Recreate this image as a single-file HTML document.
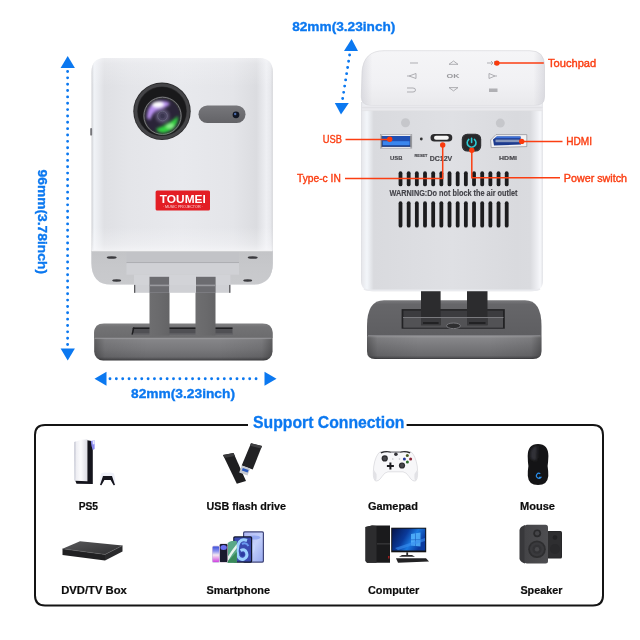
<!DOCTYPE html>
<html><head><meta charset="utf-8">
<style>
html,body{margin:0;padding:0;background:#fff;width:640px;height:640px;overflow:hidden;}
svg{display:block;}
body{-webkit-font-smoothing:antialiased;}
svg{will-change:transform;}
text{font-family:"Liberation Sans",sans-serif;}
</style></head>
<body>
<svg width="640" height="640" viewBox="0 0 640 640">
<defs>
  <clipPath id="bodyClip"><path d="M91.5,72 Q91.5,57.9 105,57.9 L259,57.9 Q272.8,57.9 272.8,72 L272.8,284 L91.5,284 Z"/></clipPath>
  <filter id="blur15" x="-20%" y="-20%" width="140%" height="140%"><feGaussianBlur stdDeviation="1.5"/></filter>
  <filter id="blur1" x="-20%" y="-20%" width="140%" height="140%"><feGaussianBlur stdDeviation="0.8"/></filter>
  <linearGradient id="bodyL" x1="0" y1="0" x2="1" y2="0">
    <stop offset="0" stop-color="#cdced2"/>
    <stop offset="0.014" stop-color="#f0f3f7"/>
    <stop offset="0.03" stop-color="#eceef2"/>
    <stop offset="0.07" stop-color="#dfe0e4"/>
    <stop offset="0.2" stop-color="#e4e5e9"/>
    <stop offset="0.5" stop-color="#e8e9ed"/>
    <stop offset="0.78" stop-color="#e4e5e9"/>
    <stop offset="0.91" stop-color="#dbdce0"/>
    <stop offset="0.965" stop-color="#eeeff3"/>
    <stop offset="0.99" stop-color="#e6e7eb"/>
    <stop offset="1" stop-color="#cfd0d4"/>
  </linearGradient>
  <linearGradient id="bodyV" x1="0" y1="0" x2="0" y2="1">
    <stop offset="0" stop-color="#fafafc" stop-opacity="0.5"/>
    <stop offset="0.03" stop-color="#fafafc" stop-opacity="0.25"/>
    <stop offset="0.15" stop-color="#fafafc" stop-opacity="0"/>
    <stop offset="0.88" stop-color="#fafafc" stop-opacity="0"/>
    <stop offset="0.97" stop-color="#fafafc" stop-opacity="0.35"/>
    <stop offset="1" stop-color="#fafafc" stop-opacity="0.6"/>
  </linearGradient>
  <linearGradient id="bodyR" x1="0" y1="0" x2="1" y2="0">
    <stop offset="0" stop-color="#dcdde1"/>
    <stop offset="0.008" stop-color="#e8e9ed"/>
    <stop offset="0.033" stop-color="#f3f6fa"/>
    <stop offset="0.07" stop-color="#d9dade"/>
    <stop offset="0.5" stop-color="#dfe0e4"/>
    <stop offset="0.855" stop-color="#d9dade"/>
    <stop offset="0.93" stop-color="#dadbdf"/>
    <stop offset="0.97" stop-color="#eeeff3"/>
    <stop offset="0.985" stop-color="#f7f8fb"/>
    <stop offset="1" stop-color="#e2e3e7"/>
  </linearGradient>
  <linearGradient id="under" x1="0" y1="0" x2="0" y2="1">
    <stop offset="0" stop-color="#c3c4c7"/>
    <stop offset="0.5" stop-color="#c7c8cb"/>
    <stop offset="1" stop-color="#c9cacd"/>
  </linearGradient>
  <linearGradient id="baseFront" x1="0" y1="0" x2="0" y2="1">
    <stop offset="0" stop-color="#9a9a9c"/>
    <stop offset="0.1" stop-color="#868689"/>
    <stop offset="0.5" stop-color="#77777a"/>
    <stop offset="0.85" stop-color="#6a6a6d"/>
    <stop offset="0.95" stop-color="#505053"/>
    <stop offset="1" stop-color="#3a3a3d"/>
  </linearGradient>
  <linearGradient id="baseFrontH" x1="0" y1="0" x2="1" y2="0">
    <stop offset="0" stop-color="#000" stop-opacity="0.3"/>
    <stop offset="0.06" stop-color="#000" stop-opacity="0.08"/>
    <stop offset="0.3" stop-color="#000" stop-opacity="0"/>
    <stop offset="0.7" stop-color="#000" stop-opacity="0"/>
    <stop offset="0.94" stop-color="#000" stop-opacity="0.08"/>
    <stop offset="1" stop-color="#000" stop-opacity="0.3"/>
  </linearGradient>
  <linearGradient id="baseTop" x1="0" y1="0" x2="0" y2="1">
    <stop offset="0" stop-color="#808082"/>
    <stop offset="0.25" stop-color="#727274"/>
    <stop offset="1" stop-color="#6c6c6e"/>
  </linearGradient>
  <linearGradient id="baseFrontL" x1="0" y1="0" x2="0" y2="1">
    <stop offset="0" stop-color="#9a9a9c"/>
    <stop offset="0.39" stop-color="#9a9a9c"/>
    <stop offset="0.43" stop-color="#858588"/>
    <stop offset="0.7" stop-color="#78787b"/>
    <stop offset="0.9" stop-color="#6a6a6d"/>
    <stop offset="0.96" stop-color="#505053"/>
    <stop offset="1" stop-color="#3c3c3f"/>
  </linearGradient>
  <linearGradient id="baseTopR" x1="0" y1="0" x2="0" y2="1">
    <stop offset="0" stop-color="#78787b"/>
    <stop offset="0.12" stop-color="#666669"/>
    <stop offset="1" stop-color="#5e5e61"/>
  </linearGradient>
  <linearGradient id="topPad" x1="0" y1="0" x2="0" y2="1">
    <stop offset="0" stop-color="#f5f5f7"/>
    <stop offset="0.6" stop-color="#f1f1f4"/>
    <stop offset="1" stop-color="#e9e9ec"/>
  </linearGradient>
  <linearGradient id="topPadH" x1="0" y1="0" x2="1" y2="0">
    <stop offset="0" stop-color="#c8c8d0" stop-opacity="0.5"/>
    <stop offset="0.06" stop-color="#c8c8d0" stop-opacity="0"/>
    <stop offset="0.94" stop-color="#c8c8d0" stop-opacity="0"/>
    <stop offset="1" stop-color="#c8c8d0" stop-opacity="0.5"/>
  </linearGradient>
  <linearGradient id="leg" x1="0" y1="0" x2="1" y2="0">
    <stop offset="0" stop-color="#6e6e70"/>
    <stop offset="0.5" stop-color="#6a6a6c"/>
    <stop offset="1" stop-color="#646466"/>
  </linearGradient>
  <radialGradient id="glass" cx="0.45" cy="0.4" r="0.6">
    <stop offset="0" stop-color="#5a4a78"/>
    <stop offset="0.6" stop-color="#2a2040"/>
    <stop offset="1" stop-color="#141018"/>
  </radialGradient>
  <radialGradient id="purp" cx="0.5" cy="0.5" r="0.5">
    <stop offset="0" stop-color="#f4eaff"/>
    <stop offset="0.35" stop-color="#b58cf0"/>
    <stop offset="1" stop-color="#7a3fd0" stop-opacity="0"/>
  </radialGradient>
  <radialGradient id="grn" cx="0.5" cy="0.5" r="0.5">
    <stop offset="0" stop-color="#7cf07c"/>
    <stop offset="0.5" stop-color="#22b83a"/>
    <stop offset="1" stop-color="#118a2a" stop-opacity="0"/>
  </radialGradient>
  <linearGradient id="sensor" x1="0" y1="0" x2="0" y2="1">
    <stop offset="0" stop-color="#77777b"/>
    <stop offset="1" stop-color="#636367"/>
  </linearGradient>
</defs>

<!-- ===== LEFT DIMENSION ARROWS ===== -->
<g fill="#0b78f0">
  <polygon points="67.7,56 60.6,68 74.9,68"/>
  <polygon points="67.7,360.5 60.6,348.4 74.9,348.4"/>
  <polygon points="94.5,378.8 106.5,371.8 106.5,385.8"/>
  <polygon points="276.5,378.8 264.5,371.8 264.5,385.8"/>
</g>
<g stroke="#0b78f0" stroke-width="2.9" stroke-linecap="round">
  <line x1="67.6" y1="71.5" x2="67.6" y2="346" stroke-dasharray="0 6.35"/>
  <line x1="110" y1="378.8" x2="262" y2="378.8" stroke-dasharray="0 6.35"/>
</g>
<g font-size="13.4" font-weight="bold" fill="#0b78f0" stroke="#0b78f0" stroke-width="0.35">
  <text x="131" y="398.2" textLength="104" lengthAdjust="spacingAndGlyphs">82mm(3.23inch)</text>
  <text transform="translate(37.6,169.5) rotate(90)" x="0" y="0" textLength="104.5" lengthAdjust="spacingAndGlyphs">96mm(3.78inch)</text>
  <text x="292.2" y="30.7" textLength="103.2" lengthAdjust="spacingAndGlyphs">82mm(3.23inch)</text>
</g>

<!-- ===== LEFT PROJECTOR ===== -->
<g id="leftproj">
  <!-- base -->
  <rect x="94.2" y="324" width="178.3" height="36.6" rx="9" fill="url(#baseFrontL)"/>
  <rect x="94.2" y="324" width="178.3" height="36.6" rx="9" fill="url(#baseFrontH)"/>
  <path d="M94.2,338 L94.2,333 Q94.2,323.6 104,323.6 L262.5,323.6 Q272.5,323.6 272.5,333 L272.5,338 Z" fill="url(#baseTop)"/>
  <line x1="95" y1="338.3" x2="271.5" y2="338.3" stroke="#949498" stroke-width="1.1"/>
  <path d="M133,327.5 L232.5,327.5 L232.5,334.5 L131.5,334.5 Z" fill="#505054"/>
  <path d="M133,327.5 L232.5,327.5 L232.5,329 L132.6,329 Z" fill="#1e1e20"/>
  <path d="M133,327.5 L134.5,327.5 L133,334.5 L131.5,334.5 Z" fill="#1e1e20"/>
  <rect x="133" y="333.5" width="99.5" height="1" fill="#6a6a6e"/>
  <!-- legs -->
  <rect x="149.5" y="276" width="20" height="59.5" fill="url(#leg)"/>
  <rect x="195.5" y="276" width="20" height="59.5" fill="url(#leg)"/>
  <!-- bracket below body -->
  <rect x="134" y="270" width="96.4" height="22.8" fill="#cfd0d4"/>
  <rect x="134" y="284" width="1.3" height="8.8" fill="#5a5a5e"/>
  <rect x="229.1" y="284" width="1.3" height="8.8" fill="#5a5a5e"/>
  <!-- body -->
  <path d="M91.5,72 Q91.5,57.9 105,57.9 L259,57.9 Q272.8,57.9 272.8,72 L272.8,263 Q272.8,284.6 253,284.6 L111,284.6 Q91.5,284.6 91.5,263 Z" fill="url(#bodyL)"/>
  <path d="M91.5,57.9 L272.8,57.9 L272.8,250 L91.5,250 Z" fill="url(#bodyV)" clip-path="url(#bodyClip)"/>
  <path d="M91.5,251 L272.8,251 L272.8,263 Q272.8,284.6 253,284.6 L111,284.6 Q91.5,284.6 91.5,263 Z" fill="url(#under)"/>
  <path d="M92,250.6 L272.3,250.6" stroke="#f2f2f4" stroke-width="1.2"/>
  <rect x="126.5" y="252" width="112.5" height="10.5" fill="#c2c3c7"/>
  <rect x="126.5" y="262" width="112.5" height="1.1" fill="#aeafb3"/>
  <rect x="126.5" y="263.1" width="112.5" height="11.6" fill="#d0d1d5"/>
  <rect x="134" y="274.7" width="96.4" height="10" fill="#d2d3d7"/>
  <!-- leg tops inside bracket -->
  <rect x="149.5" y="276.8" width="19.6" height="16" fill="#6c6c70"/>
  <rect x="196" y="276.8" width="19.6" height="16" fill="#6c6c70"/>
  <rect x="149.5" y="284.6" width="19.6" height="1.6" fill="#9a9a9e"/>
  <rect x="196" y="284.6" width="19.6" height="1.6" fill="#9a9a9e"/>
  <ellipse cx="111.7" cy="257.5" rx="5" ry="1.3" fill="#3a3a3e"/>
  <ellipse cx="116.7" cy="280.5" rx="4.5" ry="1.2" fill="#3a3a3e"/>
  <ellipse cx="252.7" cy="257.5" rx="5" ry="1.3" fill="#3a3a3e"/>
  <ellipse cx="247.7" cy="280.5" rx="4.5" ry="1.2" fill="#3a3a3e"/>
  <rect x="90.2" y="128" width="1.9" height="7.6" rx="0.95" fill="#76767a"/>
  <!-- lens -->
  <circle cx="162" cy="111.3" r="28.7" fill="#2a2a2c"/>
  <circle cx="162" cy="111.3" r="26.3" fill="none" stroke="#444447" stroke-width="3"/>
  <circle cx="162" cy="111.3" r="24.2" fill="#19191b"/>
  <circle cx="162.5" cy="115.8" r="19.4" fill="#303033"/>
  <circle cx="162.5" cy="115.8" r="18.6" fill="none" stroke="#7a7a7e" stroke-width="1"/>
  <circle cx="162.5" cy="116" r="17.2" fill="#2a2438"/>
  <g filter="url(#blur15)">
    <path d="M147,118 Q147,103 160,101 Q168,100.5 170,104 Q166,108 160,109 Q153,111 150,120 Z" fill="#b890f0"/>
    <ellipse cx="158" cy="104.5" rx="6" ry="3" fill="#ffffff"/>
    <path d="M178,116 Q178,130 164,133 Q158,133 156,129 Q164,126 170,122 Q175,119 178,116 Z" fill="#30d040"/>
    <ellipse cx="170" cy="126" rx="4" ry="2.5" fill="#8af08a"/>
    <circle cx="162.5" cy="116" r="7" fill="#5a5270"/>
  </g>
  <circle cx="162.5" cy="116" r="4.8" fill="#4a4460" stroke="#6a6680" stroke-width="0.8"/>
  <circle cx="162.5" cy="116" r="2.2" fill="#3a3650"/>
  <!-- sensor -->
  <rect x="198.5" y="105.5" width="47" height="17.5" rx="8.75" fill="url(#sensor)"/>
  <circle cx="236" cy="114.8" r="3.4" fill="#101522"/>
  <circle cx="235.2" cy="114" r="1.2" fill="#4a6aa8"/>
  <!-- label -->
  <rect x="155.6" y="190.6" width="54.4" height="20" rx="1.5" fill="#e31e25"/>
  <text x="182.8" y="203.2" font-size="11.3" font-weight="bold" fill="#fff" text-anchor="middle" textLength="46" lengthAdjust="spacingAndGlyphs">TOUMEI</text>
  <text x="182.8" y="208.3" font-size="3.3" fill="#f8d8d8" text-anchor="middle" textLength="40" lengthAdjust="spacingAndGlyphs">· MUSIC PROJECTOR ·</text>
</g>

<!-- ===== TOP DIMENSION (right) ===== -->
<polygon points="351.6,39 344,51 358,51" fill="#0b78f0"/>
<polygon points="341,114.4 334.8,103 348.8,103" fill="#0b78f0"/>
<line x1="349.6" y1="55" x2="342.6" y2="99" stroke="#0b78f0" stroke-width="2.9" stroke-linecap="round" stroke-dasharray="0 6.3"/>

<!-- ===== RIGHT PROJECTOR ===== -->
<g id="rightproj">
  <!-- base -->
  <path d="M367,336 L367,351 Q367,359 375,359 L533,359 Q541.5,359 541.5,351 L541.5,336 Z" fill="url(#baseFront)"/>
  <path d="M367,336 L367,351 Q367,359 375,359 L533,359 Q541.5,359 541.5,351 L541.5,336 Z" fill="url(#baseFrontH)"/>
  <path d="M367,336 L367,326 Q367,300.2 384,300.2 L525,300.2 Q541.5,300.2 541.5,326 L541.5,336 Z" fill="url(#baseTopR)"/>
  <line x1="368" y1="335.8" x2="540.5" y2="335.8" stroke="#8e8e92" stroke-width="1.1"/>
  <rect x="401.6" y="309.1" width="103.2" height="19.6" fill="#222224"/>
  <rect x="403.4" y="310.6" width="99.6" height="17" fill="#3c3c3f"/>
  <rect x="403.4" y="317.5" width="99.6" height="10.1" fill="#525255"/>
  <ellipse cx="453.5" cy="325.8" rx="7" ry="2.8" fill="#2e2e30" stroke="#77777b" stroke-width="1"/>
  <!-- legs -->
  <rect x="421" y="286" width="19.6" height="39" fill="#2c2c2e"/>
  <rect x="467" y="286" width="20.5" height="39" fill="#2c2c2e"/>
  <rect x="403" y="317" width="100.5" height="1" fill="#7a7a7e"/>
  <rect x="421" y="318" width="19.6" height="7.5" fill="#3a3a3d"/><rect x="423" y="322" width="15.6" height="2" fill="#222224"/>
  <rect x="467" y="318" width="20.5" height="7.5" fill="#3a3a3d"/><rect x="469" y="322" width="16.5" height="2" fill="#222224"/>
  <!-- body -->
  <path d="M361,102 L543,102 L543,280 Q543,291.3 532,291.3 L372,291.3 Q361,291.3 361,280 Z" fill="url(#bodyR)"/>
  <path d="M364,288.8 Q366,290.2 372,290.2 L532,290.2 Q538,290.2 540,288.8" fill="none" stroke="#eaebef" stroke-width="1.6"/>
  <!-- top pad -->
  <path d="M361.3,97 L362,72 Q363.5,50.7 384,50.7 L530,50.7 Q544.5,50.7 544.5,66 L544.5,97 Q544.5,105.5 535,105.5 L371,105.5 Q361.3,105.5 361.3,97 Z" fill="url(#topPad)" stroke="#dcdce0" stroke-width="0.8"/>
  <path d="M361.3,97 L362,72 Q363.5,50.7 384,50.7 L530,50.7 Q544.5,50.7 544.5,66 L544.5,97 Q544.5,105.5 535,105.5 L371,105.5 Q361.3,105.5 361.3,97 Z" fill="url(#topPadH)"/>
  <rect x="362" y="105.5" width="180.5" height="5" fill="#e9e9ed"/>
  <path d="M362,107.6 L542.5,107.6" stroke="#dfdfe3" stroke-width="0.9"/>
  <path d="M362,110.6 L542.5,110.6" stroke="#e2e2e6" stroke-width="0.8"/>
  <!-- touchpad icons -->
  <g fill="none" stroke="#a2a2a6" stroke-width="0.85">
    <line x1="410" y1="63" x2="418" y2="63"/>
    <path d="M449,64.3 L453.5,61 L458,64.3 Z"/>
    <path d="M487,63 L493,63 M491,61 L493,63 L491,65 M494.5,61 L494.5,65"/>
    <path d="M416,73.5 L416,78.5 L409,76 Z M409,76 L407,76"/>
    <path d="M489,73.5 L489,78.5 L495,76 Z M495,76 L497,76"/>
    <path d="M407,88 L413,88 Q415.5,88 415.5,90 Q415.5,92 413,92 L407,92"/>
    <path d="M449,87.6 L458,87.6 L453.5,90.9 Z"/>
  </g>
  <rect x="489" y="88.5" width="8.5" height="3.5" fill="#b0b0b4"/>
  <text x="453" y="77.9" font-size="5.6" font-weight="bold" fill="#9a9a9e" text-anchor="middle" textLength="13" lengthAdjust="spacingAndGlyphs">OK</text>
  <!-- indicator dots -->
  <circle cx="405.5" cy="122.8" r="4.5" fill="#c6c7cb"/>
  <circle cx="500.3" cy="123.1" r="4.5" fill="#c6c7cb"/>
  <!-- USB port -->
  <rect x="380.6" y="134.6" width="31.2" height="13.6" fill="#eeeef1" stroke="#9a9aa0" stroke-width="0.6"/>
  <rect x="382" y="136" width="28.2" height="10.6" fill="#1f4fb2"/>
  <rect x="383" y="141.2" width="26.5" height="4.4" fill="#3a86ee"/>
  <rect x="382" y="145.6" width="28.2" height="1" fill="#0e2460"/>
  <rect x="381.2" y="135.5" width="1" height="12" fill="#55555a"/>
  <rect x="410.4" y="135.5" width="1" height="12" fill="#55555a"/>
  <circle cx="421.3" cy="139" r="1.4" fill="#333"/>
  <!-- type c -->
  <rect x="430.5" y="134" width="21.8" height="7.5" rx="3.75" fill="#2c2c2e"/>
  <rect x="434" y="135.8" width="14.8" height="3.9" rx="1.95" fill="#f6f6f6"/>
  <!-- power button -->
  <rect x="461.8" y="133.7" width="19.4" height="17.8" rx="5.5" fill="#28282a"/>
  <rect x="462.6" y="134.5" width="17.8" height="16.2" rx="4.8" fill="none" stroke="#3a3a3e" stroke-width="0.8"/>
  <path d="M468.77,139.43 A4.4,4.4 0 1 0 474.43,139.43" fill="none" stroke="#2ccbd4" stroke-width="1.6" stroke-linecap="round"/>
  <line x1="471.6" y1="138.4" x2="471.6" y2="142.4" stroke="#2ccbd4" stroke-width="1.6" stroke-linecap="round"/>
  <!-- HDMI -->
  <path d="M490.6,140 L496,134.6 L526.8,134.6 L526.8,146.6 L491.2,147.6 Z" fill="#f2f2f4" stroke="#8c8c92" stroke-width="0.7"/>
  <path d="M493,139.6 L496.8,136.4 L520.5,136.4 L521,144.6 L494,145.6 Z" fill="#1c3a8e"/>
  <path d="M496.8,136.4 L520.5,136.4 L520.5,138.2 L495,138.2 Z" fill="#3f72d8"/>
  <rect x="495.5" y="139.6" width="24" height="2.6" fill="#8898bc"/>
  <!-- port labels -->
  <g font-weight="bold" fill="#46464b" stroke="#46464b" stroke-width="0.15">
    <text x="396.2" y="160.2" font-size="5.9" text-anchor="middle">USB</text>
    <text x="421" y="156.8" font-size="3.9" text-anchor="middle">RESET</text>
    <text x="441" y="161" font-size="6.6" text-anchor="middle" textLength="22.5" lengthAdjust="spacingAndGlyphs">DC12V</text>
    <text x="508" y="160.2" font-size="5.5" text-anchor="middle" textLength="17.8" lengthAdjust="spacingAndGlyphs">HDMI</text>
  </g>
  <!-- vents -->
  <g fill="#1c1c1e">
<rect x="398.60" y="171.3" width="3.8" height="15" rx="1.9"/><rect x="406.77" y="171.3" width="3.8" height="15" rx="1.9"/><rect x="414.94" y="171.3" width="3.8" height="15" rx="1.9"/><rect x="423.11" y="171.3" width="3.8" height="15" rx="1.9"/><rect x="431.28" y="171.3" width="3.8" height="15" rx="1.9"/><rect x="439.45" y="171.3" width="3.8" height="15" rx="1.9"/><rect x="447.62" y="171.3" width="3.8" height="15" rx="1.9"/><rect x="455.79" y="171.3" width="3.8" height="15" rx="1.9"/><rect x="463.96" y="171.3" width="3.8" height="15" rx="1.9"/><rect x="472.13" y="171.3" width="3.8" height="15" rx="1.9"/><rect x="480.30" y="171.3" width="3.8" height="15" rx="1.9"/><rect x="488.47" y="171.3" width="3.8" height="15" rx="1.9"/><rect x="496.64" y="171.3" width="3.8" height="15" rx="1.9"/><rect x="504.81" y="171.3" width="3.8" height="15" rx="1.9"/>
<rect x="398.60" y="201.3" width="3.8" height="26.3" rx="1.9"/><rect x="406.77" y="201.3" width="3.8" height="26.3" rx="1.9"/><rect x="414.94" y="201.3" width="3.8" height="26.3" rx="1.9"/><rect x="423.11" y="201.3" width="3.8" height="26.3" rx="1.9"/><rect x="431.28" y="201.3" width="3.8" height="26.3" rx="1.9"/><rect x="439.45" y="201.3" width="3.8" height="26.3" rx="1.9"/><rect x="447.62" y="201.3" width="3.8" height="26.3" rx="1.9"/><rect x="455.79" y="201.3" width="3.8" height="26.3" rx="1.9"/><rect x="463.96" y="201.3" width="3.8" height="26.3" rx="1.9"/><rect x="472.13" y="201.3" width="3.8" height="26.3" rx="1.9"/><rect x="480.30" y="201.3" width="3.8" height="26.3" rx="1.9"/><rect x="488.47" y="201.3" width="3.8" height="26.3" rx="1.9"/><rect x="496.64" y="201.3" width="3.8" height="26.3" rx="1.9"/><rect x="504.81" y="201.3" width="3.8" height="26.3" rx="1.9"/>
  </g>
  <text x="453.5" y="196.3" font-size="8.4" font-weight="bold" fill="#44444a" stroke="#44444a" stroke-width="0.15" text-anchor="middle" textLength="128" lengthAdjust="spacingAndGlyphs">WARNING:Do not block the air outlet</text>
</g>

<!-- ===== CALLOUTS ===== -->
<g stroke="#fb3e12" stroke-width="1.5" fill="none">
  <line x1="345.5" y1="139.4" x2="389.7" y2="139.4"/>
  <polyline points="345,178.4 442.7,178.4 442.7,145"/>
  <polyline points="471.8,150.2 471.8,177.8 560,177.8"/>
  <line x1="521.7" y1="141.4" x2="562.5" y2="141.4"/>
  <line x1="496.9" y1="63.1" x2="543.8" y2="63.1"/>
</g>
<g fill="#fa3a0c">
  <circle cx="389.7" cy="139.2" r="2.7"/>
  <circle cx="442.7" cy="145" r="2.7"/>
  <circle cx="471.8" cy="150.2" r="2.7"/>
  <circle cx="521.7" cy="141.4" r="2.7"/>
  <circle cx="496.9" cy="63.1" r="2.7"/>
</g>
<g fill="#fb3e12" stroke="#fb3e12" stroke-width="0.4" font-size="11">
  <text x="322.8" y="142.5" textLength="19.2" lengthAdjust="spacingAndGlyphs">USB</text>
  <text x="297" y="182" textLength="43.8" lengthAdjust="spacingAndGlyphs">Type-c IN</text>
  <text x="548" y="67" textLength="48.2" lengthAdjust="spacingAndGlyphs">Touchpad</text>
  <text x="566.2" y="145" textLength="25.8" lengthAdjust="spacingAndGlyphs">HDMI</text>
  <text x="563.8" y="182" textLength="63.2" lengthAdjust="spacingAndGlyphs">Power switch</text>
</g>

<!-- ===== SUPPORT CONNECTION BOX ===== -->
<path d="M248,425 L45,425 Q35,425 35,435 L35,595.6 Q35,605.6 45,605.6 L593,605.6 Q603,605.6 603,595.6 L603,435 Q603,425 593,425 L406.6,425" fill="none" stroke="#141414" stroke-width="2"/>
<text x="253" y="428" font-size="15.8" font-weight="bold" fill="#0b78f0" stroke="#0b78f0" stroke-width="0.3" textLength="151.5" lengthAdjust="spacingAndGlyphs">Support Connection</text>

<g font-size="10.9" font-weight="bold" fill="#0c0c0c" stroke="#0c0c0c" stroke-width="0.2">
  <text x="78.7" y="510" textLength="19.4" lengthAdjust="spacingAndGlyphs">PS5</text>
  <text x="206.6" y="509.8" textLength="79.4" lengthAdjust="spacingAndGlyphs">USB flash drive</text>
  <text x="367.9" y="509.8" textLength="50" lengthAdjust="spacingAndGlyphs">Gamepad</text>
  <text x="520" y="509.8" textLength="35" lengthAdjust="spacingAndGlyphs">Mouse</text>
  <text x="61.2" y="593.8" textLength="65.6" lengthAdjust="spacingAndGlyphs">DVD/TV Box</text>
  <text x="206.5" y="593.8" textLength="63.5" lengthAdjust="spacingAndGlyphs">Smartphone</text>
  <text x="368" y="593.8" textLength="51.3" lengthAdjust="spacingAndGlyphs">Computer</text>
  <text x="520.4" y="593.8" textLength="42" lengthAdjust="spacingAndGlyphs">Speaker</text>
</g>

<!-- ICONS -->
<!--ICONS_START-->
<defs>
  <linearGradient id="ps5w" x1="0" y1="0" x2="1" y2="0">
    <stop offset="0" stop-color="#e8e8ee"/>
    <stop offset="0.5" stop-color="#fbfbfd"/>
    <stop offset="1" stop-color="#dcdce4"/>
  </linearGradient>
  <linearGradient id="scr" x1="0" y1="0" x2="1" y2="0.4">
    <stop offset="0" stop-color="#06144a"/>
    <stop offset="0.45" stop-color="#0a3a9a"/>
    <stop offset="0.7" stop-color="#1a78e0"/>
    <stop offset="1" stop-color="#0a3aa0"/>
  </linearGradient>
  <linearGradient id="spk" x1="0" y1="0" x2="1" y2="0">
    <stop offset="0" stop-color="#444447"/>
    <stop offset="1" stop-color="#4e4e51"/>
  </linearGradient>
  <linearGradient id="dvdTop" x1="0" y1="0" x2="1" y2="1">
    <stop offset="0" stop-color="#5a5a5c"/>
    <stop offset="1" stop-color="#2e2e30"/>
  </linearGradient>
  <linearGradient id="ph1" x1="0" y1="0" x2="0" y2="1">
    <stop offset="0" stop-color="#3a50d8"/>
    <stop offset="0.3" stop-color="#8a90f0"/>
    <stop offset="0.55" stop-color="#f4e8f0"/>
    <stop offset="1" stop-color="#d040e0"/>
  </linearGradient>
  <linearGradient id="ph3" x1="0" y1="0" x2="1" y2="1">
    <stop offset="0" stop-color="#3a8a6a"/>
    <stop offset="0.5" stop-color="#9ad8b8"/>
    <stop offset="1" stop-color="#4aa070"/>
  </linearGradient>
  <linearGradient id="ph5" x1="0" y1="0" x2="1" y2="1">
    <stop offset="0" stop-color="#b0b8f4"/>
    <stop offset="0.5" stop-color="#c4d0fa"/>
    <stop offset="1" stop-color="#98aaf0"/>
  </linearGradient>
</defs>

<!-- PS5 -->
<g>
  <path d="M74.3,442 Q80,439.5 87.4,439.3 L87.4,481.2 L75.5,480.8 Q74,470 74.3,442 Z" fill="url(#ps5w)"/>
  <path d="M74.3,442 L75.6,441.6 L75.4,480.8 L74.4,480.5 Z" fill="#c8cad6"/>
  <path d="M87.4,440.3 L92.8,441.3 L92.8,484 L76.5,483.8 L75.3,480.8 L87.4,481.2 Z" fill="#14141c"/>
  <path d="M90.8,441 L94.6,440.2 L94.6,449 L92.8,450 L91.5,446 Z" fill="#8a8af0"/>
  <path d="M92.6,440.5 L94.6,440.2 L94.6,444 L92.8,444.5 Z" fill="#e8e8ff"/>
  <!-- controller -->
  <path d="M101,473.5 Q104,472 107.5,472.8 Q111,472 114,473.5 Q115.8,479 115.3,485 Q113.5,485.5 112.5,483.5 L110.5,480 L104.5,480 L102.5,483.5 Q101.5,485.5 99.8,485 Q99.3,479 101,473.5 Z" fill="#eef0f8"/>
  <path d="M103,476 L112,476 L115,485 L113.6,485.2 L110.6,480 L104.4,480 L101.4,485.2 L100,485 Z" fill="#14141c"/>
</g>

<!-- USB flash drive -->
<g>
  <path d="M223,455 L233.5,453 L246,481 L236.8,483.7 Z" fill="#1e1e20"/>
  <path d="M223,455 L233.5,453 L235,456 L224.5,458 Z" fill="#3a3a3c"/>
  <path d="M251,443.2 L262,446 L252.7,469.5 L241.7,465.6 Z" fill="#222224"/>
  <path d="M251,443.2 L262,446 L261,448.5 L250,445.8 Z" fill="#404042"/>
  <path d="M241.7,465.6 L250.2,468.6 L247.5,475.5 L239.2,472.5 Z" fill="#c4c8d0"/>
  <path d="M242.8,468 L248.6,470.1 L247.6,472.6 L241.8,470.5 Z" fill="#2a5ac0"/>
</g>

<!-- Gamepad -->
<g>
  <path d="M380,451.8 Q386,450.5 390,452 L401,452 Q405,450.5 411,451.8 Q415.5,455.5 417.2,466 Q418.6,478 415.8,480.8 Q412.5,482 409,476.5 Q406.5,472.3 403,471.8 L388,471.8 Q384.5,472.3 382,476.5 Q378.5,482 375.2,480.8 Q372.4,478 373.8,466 Q375.5,455.5 380,451.8 Z" fill="#f7f7f9" stroke="#cfcfd4" stroke-width="0.6"/>
  <path d="M376.5,474 Q377,480 375.5,480.6 Q373,479 373.9,470 Z" fill="#e2e2e6"/>
  <path d="M414.5,474 Q414,480 415.5,480.6 Q418,479 417.1,470 Z" fill="#e2e2e6"/>
  <path d="M380.5,452.3 Q386,450 390.5,451.6 L391,452.8 Q386,451.6 381.2,453.6 Z" fill="#2a2a2e"/>
  <path d="M410.5,452.3 Q405,450 400.5,451.6 L400,452.8 Q405,451.6 409.8,453.6 Z" fill="#2a2a2e"/>
  <rect x="390.5" y="451.6" width="10" height="0.9" fill="#55555a"/>
  <circle cx="384.75" cy="458.4" r="3.1" fill="#2a2a2e"/>
  <circle cx="384.75" cy="458.4" r="1.9" fill="#46464a"/>
  <circle cx="402" cy="465.5" r="3.1" fill="#2a2a2e"/>
  <circle cx="402" cy="465.5" r="1.9" fill="#46464a"/>
  <path d="M389.4,462.4 h2 v2.5 h2.5 v2 h-2.5 v2.5 h-2 v-2.5 h-2.5 v-2 h2.5 z" fill="#1a1a1e"/>
  <circle cx="395.9" cy="454.3" r="1.8" fill="#333338"/>
  <circle cx="407.3" cy="455.6" r="1.5" fill="#4a5a22"/>
  <circle cx="404.4" cy="458.9" r="1.5" fill="#243a9a"/>
  <circle cx="410.6" cy="459.1" r="1.5" fill="#8a2434"/>
  <circle cx="407.4" cy="461.9" r="1.5" fill="#2a6a2a"/>
  <circle cx="392.8" cy="459" r="0.8" fill="#c4c4c8"/>
  <circle cx="399.5" cy="459" r="0.8" fill="#c4c4c8"/>
</g>

<!-- Mouse -->
<g>
  <path d="M538,443.9 Q548.4,444 548.4,456 Q548.2,462 547.6,466 Q548.4,471 548.3,476 Q547.5,485.1 538,485.1 Q528.5,485.1 527.8,476 Q527.6,471 528.4,466 Q527.8,462 527.7,456 Q527.7,444 538,443.9 Z" fill="#141416"/>
  <g filter="url(#blur1)"><path d="M530.5,452 Q532,446.5 537,446 L536.5,460 Q532,461 530.5,458 Z" fill="#34343a" opacity="0.9"/></g>
  <line x1="538" y1="446" x2="538" y2="458" stroke="#26262a" stroke-width="0.6"/>
  <path d="M540.3,473.7 A2.5,2.5 0 1 0 540.9,477.3 L539,477.3" fill="none" stroke="#2a90f0" stroke-width="1.1"/>
</g>

<!-- DVD -->
<g>
  <path d="M62.5,548.8 L80,541.3 L122.5,545.6 L105,554.4 Z" fill="url(#dvdTop)"/>
  <path d="M62.5,548.8 L105,554.4 L105,560.6 L62.5,555 Z" fill="#202022"/>
  <path d="M105,554.4 L122.5,545.6 L122.5,551.5 L105,560.6 Z" fill="#2a2a2c"/>
  <path d="M62.5,548.8 L105,554.4 L122.5,545.6" fill="none" stroke="#6a6a6c" stroke-width="0.5"/>
</g>

<!-- Smartphones -->
<g>
  <rect x="243" y="531.2" width="21" height="31.5" rx="1.6" fill="#40467a"/>
  <rect x="244.2" y="532.4" width="18.6" height="29.1" rx="0.8" fill="url(#ph5)"/>
  <ellipse cx="254" cy="537.5" rx="6.5" ry="2" fill="#8aa0f0" opacity="0.8"/>
  <ellipse cx="251" cy="548" rx="4" ry="6" fill="#c8d8ff" opacity="0.6"/>
  <rect x="233.2" y="536.2" width="19" height="26.5" rx="1.6" fill="#121830"/>
  <rect x="234.4" y="537.4" width="16.6" height="24.1" rx="0.8" fill="#3a4ab0"/>
  <path d="M247,540.5 Q240,538 238,545 Q236.5,551 238,556 Q240,560.5 244,559 Q248,557 246.5,552.5 Q245,548.5 240.5,550.5" fill="none" stroke="#9cd0ff" stroke-width="3"/>
  <path d="M242,544 Q246,542 248.5,546" fill="none" stroke="#6a9af0" stroke-width="2"/>
  <circle cx="242.5" cy="554.2" r="2" fill="#2a3aa0"/>
  <path d="M226.6,562.7 L226.6,546 Q227.5,541.5 232,541 L236.8,541 L236.8,562.7 Z" fill="#5aa888"/>
  <path d="M227,558 Q231,551 236.8,544 L236.8,548 Q232,554 228,561 Z" fill="#e8f4ee"/>
  <path d="M228,561 L236.8,552 L236.8,562.7 L228,562.7 Z" fill="#3a8a5a"/>
  <rect x="219.2" y="543.4" width="8.8" height="19.3" rx="1.6" fill="#d8c8d8"/>
  <rect x="219.8" y="544" width="7.6" height="18.1" rx="1.2" fill="#1a1a2e"/>
  <ellipse cx="223.6" cy="547.5" rx="3.2" ry="2.5" fill="#6a70f0"/>
  <rect x="212.1" y="545.8" width="7.6" height="16.9" rx="1.5" fill="#c8b8e0"/>
  <rect x="212.7" y="546.4" width="6.4" height="15.7" rx="1" fill="url(#ph1)"/>
</g>

<!-- Computer -->
<g>
  <path d="M365.5,527 L372,525.5 L390,525.5 L390,562.7 L367,562.7 L365.5,561 Z" fill="#1a1a1c"/>
  <path d="M365.5,527 L372,525.5 L376.5,526 L376.5,562.7 L367,562.7 L365.5,561 Z" fill="#2c2c2e"/>
  <rect x="377" y="543.5" width="13" height="0.8" fill="#4a4a4c"/>
  <rect x="388.2" y="556" width="1.2" height="2.5" fill="#c02020"/>
  <rect x="391.2" y="527.7" width="35" height="24.6" fill="#141416"/>
  <rect x="392.2" y="528.7" width="33" height="21.8" fill="url(#scr)"/>
  <path d="M411,534 L420.5,532.5 L420.5,546.5 L411,545.5 Z" fill="#58b8ff" opacity="0.8"/><path d="M411,539.8 L420.5,539.6 M415.5,533.3 L415.5,546" stroke="#1a5ac0" stroke-width="0.6"/><path d="M395,548 Q410,543 425,538 L425,541 Q410,546 398,550 Z" fill="#3a90f0" opacity="0.6"/>
  <rect x="406.3" y="552.3" width="1.8" height="3.5" fill="#2a2a2c"/>
  <path d="M399,556.7 L415,556.7 L412,555 L402,555 Z" fill="#2a2a2c"/>
  <path d="M396,558.3 L426,558.3 L429,561.5 L398,562.7 Z" fill="#222224"/>
</g>

<!-- Speaker -->
<g>
  <rect x="547" y="531" width="15" height="27.6" rx="1.5" fill="#262628"/>
  <rect x="548" y="532" width="13" height="25.6" rx="1" fill="#2e2e30"/>
  <circle cx="555" cy="537.5" r="2.3" fill="#222224"/>
  <circle cx="555" cy="549" r="5" fill="#29292b"/>
  <path d="M519.5,530 Q520,526.5 525,525 L525,563.6 Q520.5,562 519.5,559 Z" fill="#38383b"/>
  <rect x="524.5" y="524.7" width="23.5" height="38.9" rx="2.5" fill="url(#spk)"/>
  <circle cx="537.2" cy="533.3" r="3.9" fill="#2a2a2c"/>
  <circle cx="537.2" cy="533.3" r="2.2" fill="#454548"/>
  <circle cx="537" cy="549.3" r="8.8" fill="#2e2e30"/>
  <circle cx="537" cy="549.3" r="7" fill="#3a3a3d"/>
  <circle cx="537" cy="549.3" r="4.5" fill="#333336"/>
  <circle cx="537" cy="549.3" r="2.2" fill="#48484b"/>
</g>

<!--ICONS_END-->

</svg>
</body></html>
